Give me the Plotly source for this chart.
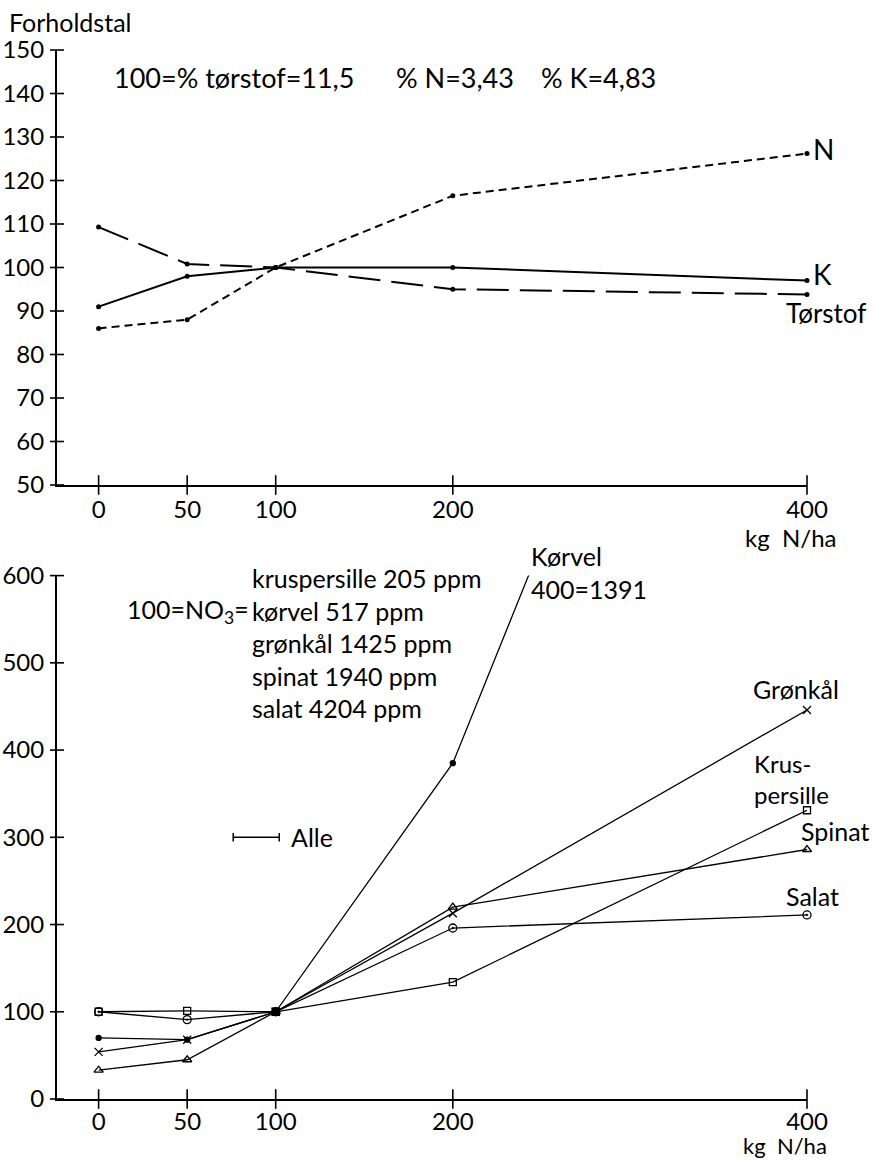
import plotly.graph_objects as go

W, H = 875, 1160
FONT = "Lato"

# ---------------- data ----------------
x_doses = [0, 50, 100, 200, 400]
x_ticks = [0, 50, 100, 200, 400]

# top chart (Forholdstal)
n_vals = [86, 88, 100, 116.5, 126.2]
k_vals = [91, 98, 100, 100, 97]
torstof_vals = [109.3, 100.8, 100, 95, 93.8]
top_yticks = [50, 60, 70, 80, 90, 100, 110, 120, 130, 140, 150]

# bottom chart (NO3)
krus_vals = [100, 101, 100, 134, 331]
korvel_vals = [70, 68, 100, 385, 1391]
gronkal_vals = [54, 68, 100, 213, 446]
spinat_vals = [33, 45, 100, 220, 286]
salat_vals = [100, 91, 100, 196, 211]
bot_yticks = [0, 100, 200, 300, 400, 500, 600]
alle_x = [76, 102]
alle_y = [300, 300]

no3_lines = ["kruspersille 205 ppm", "kørvel 517 ppm", "grønkål 1425 ppm",
             "spinat 1940 ppm", "salat 4204 ppm"]

# ---------------- layout geometry ----------------
X_DOM = [57 / W, 807 / W]
X_RANGE = [-23.5, 400]
TOP_RANGE = [50, 150]
BOT_RANGE = [0, 600]
TOP_DOM = [1 - 485 / H, 1 - 50 / H]
BOT_DOM = [1 - 1099 / H, 1 - 575.6 / H]

fig = go.Figure()

def top_trace(y, dash, name):
    fig.add_trace(go.Scatter(
        x=x_doses, y=y, mode="lines+markers", name=name,
        line=dict(color="black", width=2, dash=dash),
        marker=dict(symbol="circle", size=5, color="black"),
        xaxis="x", yaxis="y", cliponaxis=False, showlegend=False))

top_trace(n_vals, "8px,5px", "N")
top_trace(k_vals, "solid", "K")
top_trace(torstof_vals, "32px,11px", "Tørstof")

def bot_trace(y, symbol, size, name, clip=False):
    fig.add_trace(go.Scatter(
        x=x_doses, y=y, mode="lines+markers", name=name,
        line=dict(color="black", width=1.3),
        marker=dict(symbol=symbol, size=size, color="black",
                    line=dict(color="black", width=1.3)),
        xaxis="x2", yaxis="y2", cliponaxis=clip, showlegend=False))

bot_trace(krus_vals, "square-open", 7, "Kruspersille")
bot_trace(korvel_vals, "circle", 5, "Kørvel", clip=True)
bot_trace(gronkal_vals, "x-thin-open", 8, "Grønkål")
bot_trace(spinat_vals, "triangle-up-open", 8, "Spinat")
bot_trace(salat_vals, "circle-open-dot", 8, "Salat")

fig.add_trace(go.Scatter(
    x=alle_x, y=alle_y, mode="lines+markers", name="Alle",
    line=dict(color="black", width=1.5),
    marker=dict(symbol="line-ns-open", size=6, color="black",
                line=dict(color="black", width=1.5)),
    xaxis="x2", yaxis="y2", cliponaxis=False, showlegend=False))

# crossing tick marks drawn on the axis lines
def tick_marks(xa, ya, yrange, yticks):
    fig.add_trace(go.Scatter(
        x=x_ticks, y=[yrange[0]] * len(x_ticks), mode="markers",
        marker=dict(symbol="line-ns-open", size=14, color="black",
                    line=dict(color="black", width=1.6)),
        xaxis=xa, yaxis=ya, cliponaxis=False, showlegend=False, hoverinfo="skip"))
    fig.add_trace(go.Scatter(
        x=[X_RANGE[0]] * len(yticks), y=yticks, mode="markers",
        marker=dict(symbol="line-ew-open", size=10, color="black",
                    line=dict(color="black", width=1.6)),
        xaxis=xa, yaxis=ya, cliponaxis=False, showlegend=False, hoverinfo="skip"))

tick_marks("x", "y", TOP_RANGE, top_yticks)
tick_marks("x2", "y2", BOT_RANGE, bot_yticks)

tickfont = dict(family=FONT, size=24, color="black")

def xax(anchor, standoff):
    return dict(domain=X_DOM, range=X_RANGE, anchor=anchor, showline=True,
                linecolor="black", linewidth=2, showgrid=False, zeroline=False,
                tickmode="array", tickvals=x_ticks, ticks="", automargin=False,
                tickfont=tickfont, ticklabelstandoff=standoff)

def yax(anchor, dom, rng, vals):
    return dict(domain=dom, range=rng, anchor=anchor, showline=True,
                linecolor="black", linewidth=2, showgrid=False, zeroline=False,
                tickmode="array", tickvals=vals, ticks="", automargin=False,
                tickfont=tickfont, ticklabelstandoff=6)

def ann(text, px, py, xanchor="left", size=26, align="left", yanchor="middle"):
    return dict(text=text, x=px / W, y=1 - py / H, xref="paper", yref="paper",
                xanchor=xanchor, yanchor=yanchor, showarrow=False, align=align,
                borderpad=0, font=dict(family=FONT, size=size, color="black"))

annotations = [
    ann("Forholdstal", 8, 22, size=25),
    ann("100=% tørstof=11,5", 113, 77, size=27),
    ann("% N=3,43", 395, 77, size=27),
    ann("% K=4,83", 540, 77, size=27),
    ann("N", 812, 149, size=28),
    ann("K", 812, 274, size=28),
    ann("Tørstof", 785, 313, size=26),
    ann("kg\u00a0\u00a0N/ha", 790, 537, xanchor="center", size=24),
    ann("<br>".join(no3_lines), 251, 643, size=25),
    ann("100=NO<sub>3</sub>=", 250, 611, xanchor="right", size=25),
    ann("Kørvel<br>400=1391", 530, 572, size=25),
    ann("Grønkål", 752, 689, size=25),
    ann("Krus-<br>persille", 753, 779, size=24),
    ann("Spinat", 800, 831, size=25),
    ann("Salat", 785, 896, size=25),
    ann("Alle", 290, 837, size=25),
    ann("kg\u00a0\u00a0N/ha", 785, 1160, xanchor="center", size=22, yanchor="bottom"),
]

fig.update_layout(
    width=W, height=H,
    margin=dict(l=0, r=0, t=0, b=0, autoexpand=False),
    paper_bgcolor="white", plot_bgcolor="white",
    font=dict(family=FONT, color="black"),
    xaxis=xax("y", 2),
    yaxis=yax("x", TOP_DOM, TOP_RANGE, top_yticks),
    xaxis2=xax("y2", 0),
    yaxis2=yax("x2", BOT_DOM, BOT_RANGE, bot_yticks),
    annotations=annotations,
)

fig.write_html("out.html")
